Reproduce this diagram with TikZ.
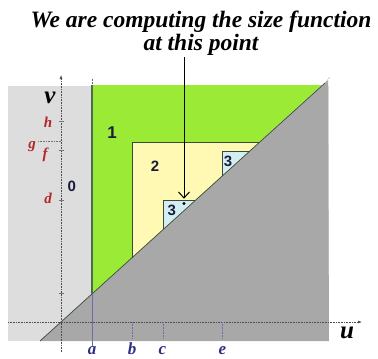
\documentclass[tikz,border=0pt]{standalone}
\usepackage{fontspec}
\setmainfont{Liberation Serif}
\newfontfamily\numfont{Liberation Sans}
\usetikzlibrary{arrows.meta,calc}
\definecolor{sfpale}{HTML}{DCDDDC}
\definecolor{sfgray}{HTML}{A8A8A8}
\definecolor{sflime}{HTML}{9BEA35}
\definecolor{sfyellow}{HTML}{FFF9B3}
\definecolor{sfcyan}{HTML}{D3EEF3}
\definecolor{sfred}{HTML}{B3262A}
\definecolor{sfblue}{HTML}{2E2E85}
\definecolor{sfnavy}{HTML}{1B1B3A}
\definecolor{sfedge}{HTML}{3A4A3A}
\definecolor{sfwall}{HTML}{4B6B55}
\tikzset{
    axis/.style={draw=black!70,densely dotted,line width=0.6pt,-{Latex[length=4pt,width=3pt]}},
    tick/.style={draw=black!55,line width=0.6pt},
    foot/.style={draw=sfblue!70,densely dotted,line width=0.6pt},
    varlbl/.style={font=\bfseries\itshape\fontsize{25}{25}\selectfont,inner sep=0pt,anchor=base},
    vlbl/.style={font=\bfseries\itshape\fontsize{15}{15}\selectfont,text=sfred,inner sep=0pt,anchor=base},
    hlbl/.style={font=\bfseries\itshape\fontsize{17}{17}\selectfont,text=sfblue,inner sep=0pt,anchor=base},
    region/.style={font=\numfont\bfseries\fontsize{15}{15}\selectfont,text=sfnavy,inner sep=0pt,anchor=base},
    zone/.style={draw=sfedge,line width=0.6pt},
    title/.style={font=\bfseries\itshape\fontsize{23.5}{23}\selectfont,align=center,inner sep=0pt},
    pointer/.style={draw,line width=1pt,-{Straight Barb[length=6pt,width=11pt]}},
    hit/.style={circle,fill,inner sep=0pt,minimum size=3.2pt},
}

\begin{document}
\begin{tikzpicture}[x=1pt,y=-1pt]
    \useasboundingbox (0,0) rectangle (378,359);

    \coordinate (o) at (61,322);
    \coordinate (dlo) at (40,341);
    \coordinate (dhi) at (325,83);
    \coordinate (dend) at (330,77);

    \fill[sfpale] (8,86) rectangle (329,341);
    \fill[sfgray] (dlo) -- (dhi) -- (328,80) -- (329,341) -- cycle;
    \fill[sflime] (92,85) -- (321.7,85) -- (92,293.8) -- cycle;

    \fill[sfyellow] (132,142) -- (259,142) -- (132,257.5) -- cycle;
    \draw[zone] (132,257.5) -- (132,142) -- (259,142);
    \fill[sfcyan] (163,200.5) -- (194.7,200.5) -- (163,229.3) -- cycle;
    \draw[zone] (163,229.3) -- (163,200.5) -- (194.7,200.5);
    \fill[sfcyan] (222,151) -- (249,151) -- (222,175.6) -- cycle;
    \draw[zone] (222,175.6) -- (222,151) -- (249,151);

    \draw[sfedge,line width=0.7pt] (dlo) -- (dhi);
    \draw[black!60,densely dotted] (dhi) -- (dend);

    \draw[axis] (61,352) -- (61,75);
    \draw[axis] (8,322) -- (362,322);

    \draw[sfwall,line width=1.6pt] (92,85) -- (92,293.8);
    \draw[black!60,densely dotted] (92,85) -- (92,78);
    \draw[sfblue!70,line width=0.9pt] (92,293.8) -- (92,346);
    \foreach \u in {132,163,222}
        \draw[foot] (\u,322) -- (\u,339);

    \foreach \v in {121.7,150,200,293.5}
        \draw[tick] (59,\v) -- (63.5,\v);
    \draw[tick,densely dotted] (38,141.7) -- (62,141.7);

    \node[varlbl] (v) at (50,103) {v};
    \node[varlbl] (u) at (347,338.5) {u};
    \node[vlbl] (h) at (48,127) {h};
    \node[vlbl] (g) at (32,148) {g};
    \node[vlbl] (f) at (45,158) {f};
    \node[vlbl] (d) at (48,203) {d};
    \node[hlbl] (a) at (92,354.5) {a};
    \node[hlbl] (b) at (132,354.5) {b};
    \node[hlbl] (c) at (162.5,354.5) {c};
    \node[hlbl] (e) at (222.5,354.5) {e};

    \node[region] (r0) at (71.7,191) {0};
    \node[region,font=\numfont\bfseries\fontsize{17}{17}\selectfont] (r1) at (112,138.5) {1};
    \node[region] (r2) at (155,171) {2};
    \node[region] (r3lo) at (171.7,215) {3};
    \node[region] (r3hi) at (228,166.7) {3};

    \node[title] (title) at (201,33) {We are computing the size function\\at this point};
    \node[hit] (dot) at (184,203.5) {};
    \draw[pointer,shorten >=3pt] ([yshift=-2pt]title.south -| dot) -- (dot.north);
\end{tikzpicture}
\end{document}
